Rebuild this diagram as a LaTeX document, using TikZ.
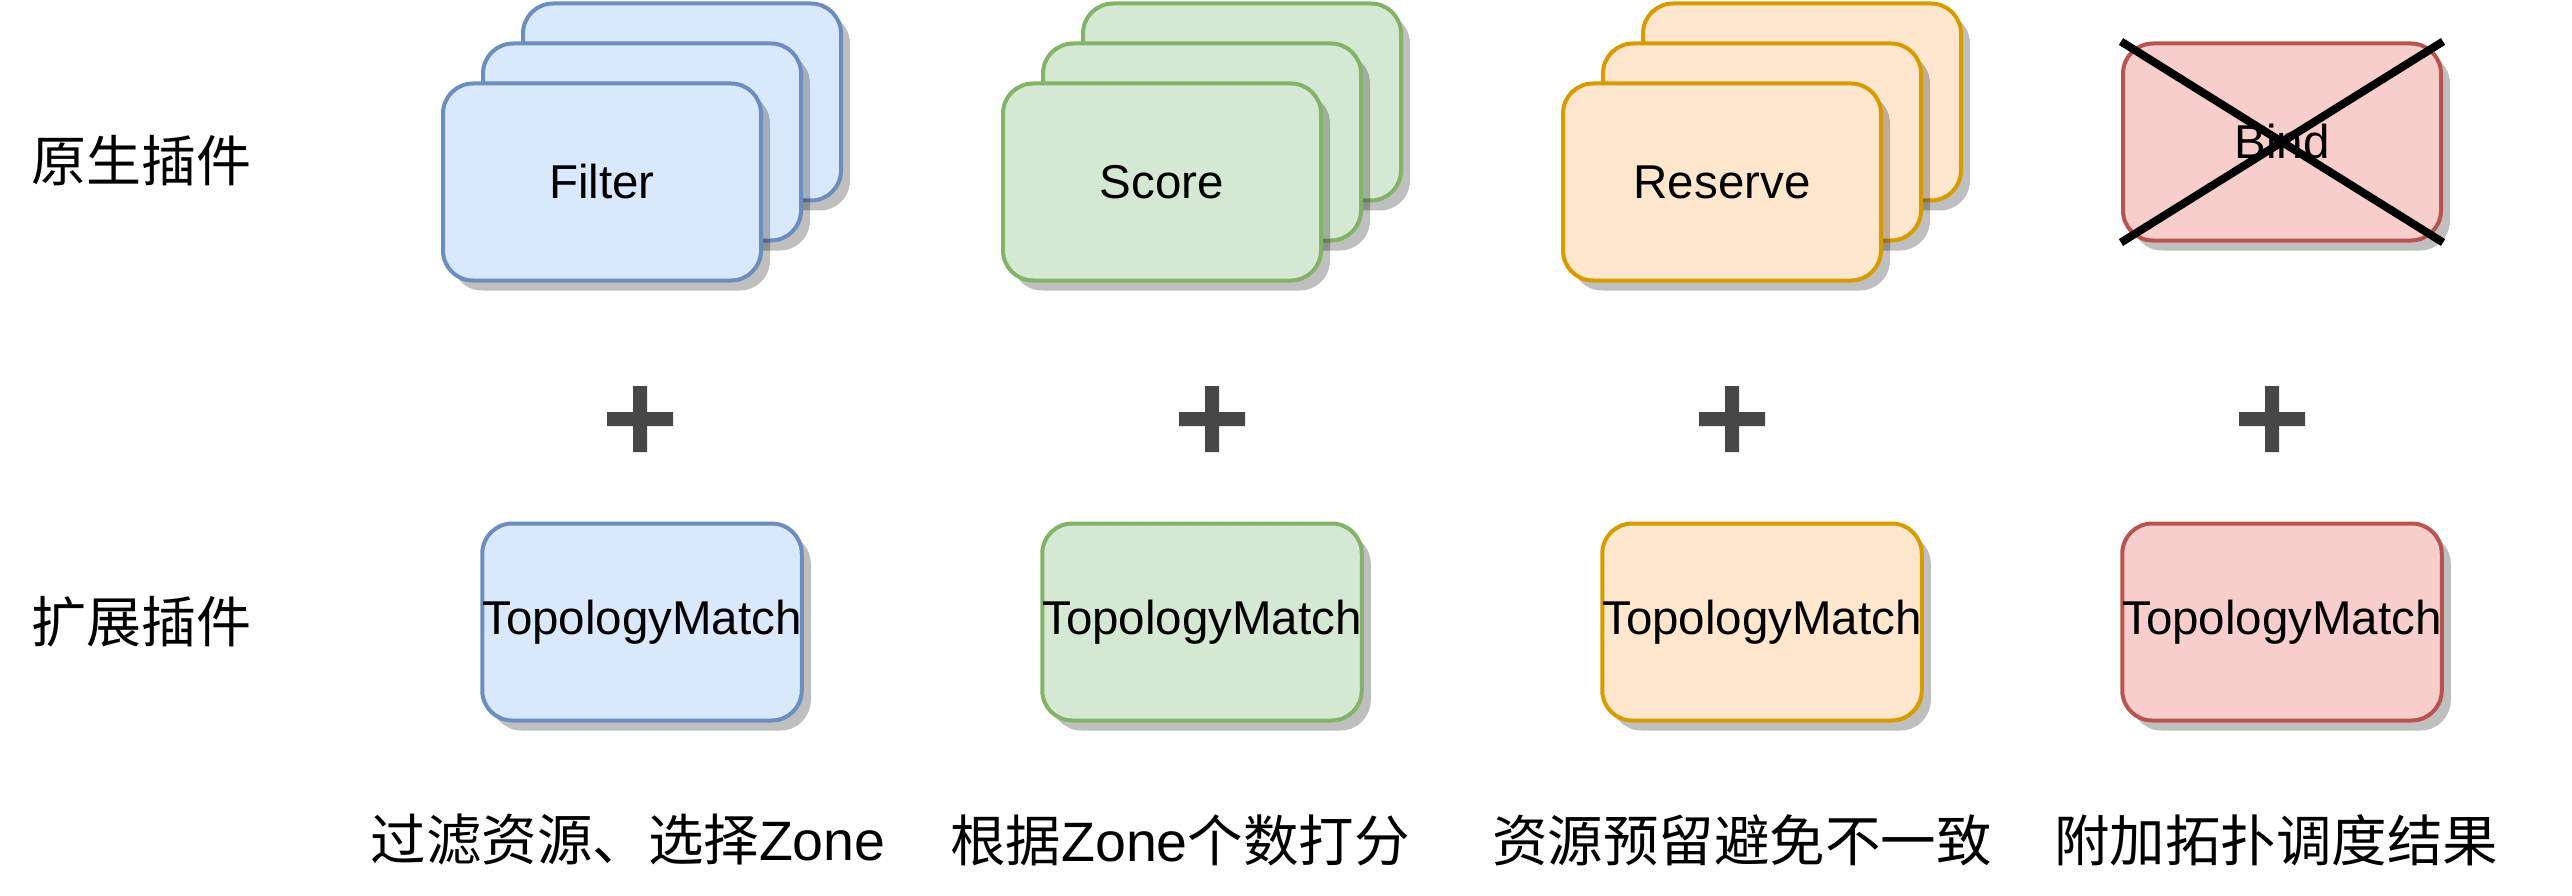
\documentclass[tikz,border=0pt]{standalone}
\usepackage{fontspec}
\setmainfont{Liberation Sans}
\newfontfamily\cjk{Noto Sans CJK SC}
\usetikzlibrary{shadows}
\definecolor{bluefill}{HTML}{DAE8FC}\definecolor{bluedraw}{HTML}{6C8EBF}
\definecolor{greenfill}{HTML}{D5E8D4}\definecolor{greendraw}{HTML}{82B366}
\definecolor{orangefill}{HTML}{FFE6CC}\definecolor{orangedraw}{HTML}{D79B00}
\definecolor{redfill}{HTML}{F8CECC}\definecolor{reddraw}{HTML}{B85450}
\definecolor{plusgray}{HTML}{474747}
\tikzset{
  card/.style={rectangle, rounded corners=30pt, minimum width=318pt, minimum height=197pt,
    line width=4pt, inner sep=0pt, font=\fontsize{47.5}{56}\selectfont,
    drop shadow={shadow xshift=9pt, shadow yshift=-10pt, opacity=0.25, fill=black}},
  bluecard/.style={card, fill=bluefill, draw=bluedraw},
  greencard/.style={card, fill=greenfill, draw=greendraw},
  orangecard/.style={card, fill=orangefill, draw=orangedraw},
  redcard/.style={card, fill=redfill, draw=reddraw},
  rowlabel/.style={inner sep=0pt, font=\fontsize{55}{64}\selectfont},
  caption/.style={inner sep=0pt, font=\fontsize{55.5}{64}\selectfont},
  crossline/.style={line width=8pt, black},
  plussign/.pic={\fill[plusgray] (-33,-7) -- (-7,-7) -- (-7,-33) -- (7,-33) -- (7,-7) -- (33,-7)
     -- (33,7) -- (7,7) -- (7,33) -- (-7,33) -- (-7,7) -- (-33,7) -- cycle;}
}
\begin{document}
\begin{tikzpicture}[x=1pt,y=-1pt]
\useasboundingbox (0,0) rectangle (2572,896);
% row labels
\node[rowlabel] (native) at (141,161) {\cjk 原生插件};
\node[rowlabel] (ext) at (141,622) {\cjk 扩展插件};
% Filter stack
\node[bluecard] (f3) at (682,102) {};
\node[bluecard] (f2) at (642,142) {};
\node[bluecard] (f1) at (602,182) {Filter};
% Score stack
\node[greencard] (s3) at (1242,102) {};
\node[greencard] (s2) at (1202,142) {};
\node[greencard] (s1) at (1162,182) {Score};
% Reserve stack
\node[orangecard] (r3) at (1802,102) {};
\node[orangecard] (r2) at (1762,142) {};
\node[orangecard] (r1) at (1722,182) {Reserve};
% Bind
\node[redcard] (bind) at (2282,142) {Bind};
\draw[crossline] (bind.north west) -- (bind.south east);
\draw[crossline] (bind.north east) -- (bind.south west);
% plus signs
\pic at (640,419) {plussign};
\pic at (1212,419) {plussign};
\pic at (1732,419) {plussign};
\pic at (2272,419) {plussign};
% extension boxes
\node[bluecard] (t1) at (642,622) {TopologyMatch};
\node[greencard] (t2) at (1202,622) {TopologyMatch};
\node[orangecard] (t3) at (1762,622) {TopologyMatch};
\node[redcard] (t4) at (2282,622) {TopologyMatch};
% captions
\node[caption] (c1) at (628,840) {{\cjk 过滤资源、选择}Zone};
\node[caption] (c2) at (1180,840) {{\cjk 根据}Zone{\cjk 个数打分}};
\node[caption] (c3) at (1742,840) {\cjk 资源预留避免不一致};
\node[caption] (c4) at (2276,840) {\cjk 附加拓扑调度结果};
\end{tikzpicture}
\end{document}
